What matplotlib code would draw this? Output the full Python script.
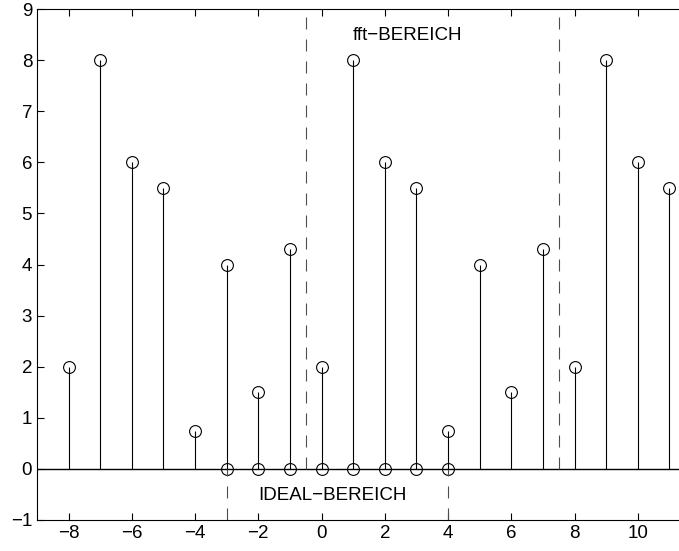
import matplotlib.pyplot as plt
import numpy as np

plt.rcParams['font.family'] = ['Liberation Sans', 'DejaVu Sans']

# one period of the sequence, repeated over the whole range
period = [2, 8, 6, 5.5, 0.75, 4, 1.5, 4.3]
n = np.arange(-8, 12)
values = [period[(k + 8) % 8] for k in n]

# ideal range (circles on the zero line)
n_ideal = np.arange(-3, 5)
zeros_ideal = np.zeros(len(n_ideal))

fft_edges = [-0.5, 7.5]
ideal_edges = [-3, 4]

fig = plt.figure(figsize=(6.79, 5.51), dpi=100)
ax = fig.add_axes([37 / 679, 31 / 551, 664 / 679, 511 / 551])

ax.axhline(0, color='black', lw=1.0, zorder=1)

ml, sl, bl = ax.stem(n, values, linefmt='k-', markerfmt='ko', basefmt=' ')
plt.setp(sl, lw=0.8)
plt.setp(ml, markerfacecolor='none', markeredgecolor='black', markersize=8.5, markeredgewidth=0.8)

ml2, sl2, bl2 = ax.stem(n_ideal, zeros_ideal, linefmt='k-', markerfmt='ko', basefmt=' ')
plt.setp(ml2, markerfacecolor='none', markeredgecolor='black', markersize=8.5, markeredgewidth=0.8)

# Bereichsgrenzen
dash = (0, (10.8, 9))
for x in fft_edges:
    ax.plot([x, x], [0, 9], color='0.3', lw=0.8, ls=dash)
for x in ideal_edges:
    ax.plot([x, x], [-1, 0], color='0.3', lw=0.8, ls=dash)

ax.text(1, 8.48, 'fft\u2212BEREICH', fontsize=13.5, va='center', ha='left')
ax.text(-2, -0.53, 'IDEAL\u2212BEREICH', fontsize=13.5, va='center', ha='left')

ax.set_xlim(-9, 12)
ax.set_ylim(-1, 9)
ax.set_xticks(np.arange(-8, 12, 2))
ax.set_yticks(np.arange(-1, 10, 1))
ax.tick_params(direction='in', top=True, right=True, length=5, labelsize=13.5, width=0.8)
for s in ax.spines.values():
    s.set_linewidth(0.8)

plt.savefig('out.png', dpi=100)
